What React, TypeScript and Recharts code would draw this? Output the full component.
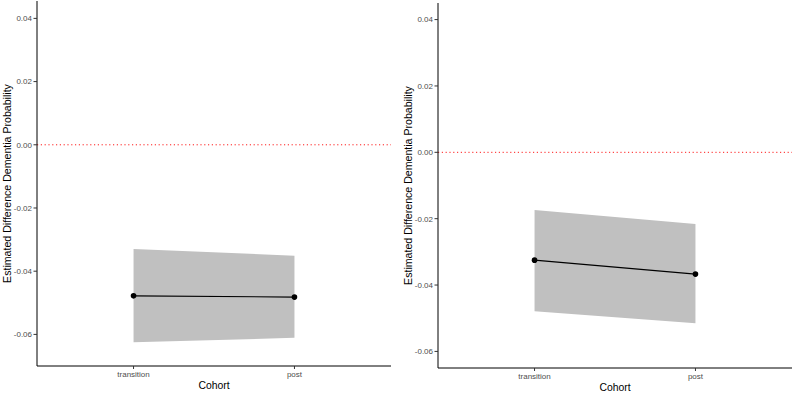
import React from 'react';
import {
  ComposedChart,
  Area,
  Line,
  XAxis,
  YAxis,
  ReferenceLine,
  Label,
} from 'recharts';

// Cohort categories on the x axis
const cohorts = ['transition', 'post'];

// Left panel: estimate with confidence band
const leftEstimate = [-0.0478, -0.0482];
const leftLower = [-0.0625, -0.0611];
const leftUpper = [-0.033, -0.0351];

// Right panel: estimate with confidence band
const rightEstimate = [-0.0325, -0.0367];
const rightLower = [-0.0479, -0.0515];
const rightUpper = [-0.0174, -0.0216];

const yTicks = [-0.06, -0.04, -0.02, 0, 0.02, 0.04];
const xTicks = [1, 2];

const FONT = '"Liberation Sans", Arial, Helvetica, sans-serif';
const TICK_COLOR = '#4d4d4d';

type PanelProps = {
  estimate: number[];
  lower: number[];
  upper: number[];
  yDomain: [number, number];
  left: number;
  width: number;
  height: number;
  margin: { top: number; right: number; bottom: number; left: number };
  yAxisWidth: number;
  xAxisHeight: number;
};

const YTitle = (props: any) => {
  const vb = props.viewBox || {};
  const cx = vb.x + vb.width - 30.5;
  const cy = vb.y + vb.height / 2;
  return (
    <text
      x={cx}
      y={cy}
      transform={`rotate(-90, ${cx}, ${cy})`}
      textAnchor="middle"
      dominantBaseline="central"
      fontSize={10.6}
      fill="#000"
      fontFamily={FONT}
    >
      Estimated Difference Dementia Probability
    </text>
  );
};

const XTitle = (props: any) => {
  const vb = props.viewBox || {};
  const cx = vb.x + vb.width / 2;
  const cy = vb.y + 19;
  return (
    <text
      x={cx}
      y={cy}
      textAnchor="middle"
      dominantBaseline="central"
      fontSize={10.4}
      fill="#000"
      fontFamily={FONT}
    >
      Cohort
    </text>
  );
};

const Panel = ({
  estimate,
  lower,
  upper,
  yDomain,
  left,
  width,
  height,
  margin,
  yAxisWidth,
  xAxisHeight,
}: PanelProps) => {
  const data = cohorts.map((c, i) => ({
    pos: i + 1,
    cohort: c,
    estimate: estimate[i],
    band: [lower[i], upper[i]],
  }));
  return (
    <div style={{ position: 'absolute', left, top: 0, width, height }}>
      <ComposedChart width={width} height={height} data={data} margin={margin}>
        <XAxis
          dataKey="pos"
          type="number"
          domain={[0.4, 2.6]}
          ticks={xTicks}
          allowDataOverflow
          height={xAxisHeight}
          tickFormatter={(v: number) => cohorts[v - 1] ?? ''}
          tick={{ fontSize: 8, fill: TICK_COLOR, fontFamily: FONT }}
          tickSize={3}
          tickMargin={2}
          axisLine={{ stroke: '#000', strokeWidth: 1 }}
          tickLine={{ stroke: '#333', strokeWidth: 1 }}
        >
          <Label content={<XTitle />} />
        </XAxis>
        <YAxis
          type="number"
          domain={yDomain}
          ticks={yTicks}
          allowDataOverflow
          width={yAxisWidth}
          tickFormatter={(v: number) => v.toFixed(2)}
          tick={{ fontSize: 8, fill: TICK_COLOR, fontFamily: FONT }}
          tickSize={3.5}
          tickMargin={1.5}
          axisLine={{ stroke: '#000', strokeWidth: 1 }}
          tickLine={{ stroke: '#333', strokeWidth: 1 }}
        >
          <Label content={<YTitle />} />
        </YAxis>
        <ReferenceLine
          y={0}
          stroke="#ff0000"
          strokeWidth={0.9}
          strokeDasharray="1.2 2.6"
        />
        <Area
          dataKey="band"
          type="linear"
          stroke="none"
          fill="#c0c0c0"
          fillOpacity={1}
          isAnimationActive={false}
        />
        <Line
          dataKey="estimate"
          type="linear"
          stroke="#000"
          strokeWidth={1.1}
          dot={{ r: 2.8, fill: '#000', stroke: 'none' }}
          activeDot={false}
          isAnimationActive={false}
        />
      </ComposedChart>
    </div>
  );
}

export default function App() {
  return (
    <div
      style={{
        position: 'absolute',
        left: 0,
        top: 0,
        width: 794,
        height: 393,
        background: '#fff',
        fontFamily: FONT,
      }}
    >
      <Panel
        estimate={leftEstimate}
        lower={leftLower}
        upper={leftUpper}
        yDomain={[-0.07, 0.0455]}
        left={0}
        width={397}
        height={393}
        margin={{ top: 1, right: 6, bottom: 0, left: 0 }}
        yAxisWidth={37}
        xAxisHeight={27}
      />
      <Panel
        estimate={rightEstimate}
        lower={rightLower}
        upper={rightUpper}
        yDomain={[-0.065, 0.045]}
        left={397}
        width={397}
        height={393}
        margin={{ top: 3, right: 2, bottom: 0, left: 0 }}
        yAxisWidth={41}
        xAxisHeight={25}
      />
    </div>
  );
}
